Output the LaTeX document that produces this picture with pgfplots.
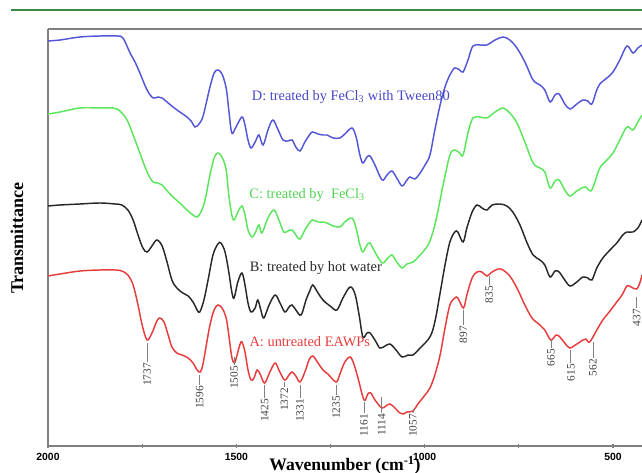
\documentclass[border=0pt]{standalone}
\usepackage{pgfplots}
\pgfplotsset{compat=1.18}
\usepackage{fontspec}
\setmainfont{Liberation Serif}
\newfontfamily\ticksans{Liberation Sans}
\definecolor{cA}{RGB}{232,60,60}
\definecolor{cB}{RGB}{40,40,40}
\definecolor{cC}{RGB}{90,230,90}
\definecolor{cD}{RGB}{85,85,215}
\definecolor{tD}{RGB}{70,70,200}
\definecolor{tC}{RGB}{80,210,80}
\definecolor{hdr}{RGB}{60,135,70}
\begin{document}
\begin{tikzpicture}[x=0.75pt,y=0.75pt]
\begin{axis}[
  at={(0,0)}, anchor=south west, name=ax,
  scale only axis, width=445.5pt, height=312.75pt,
  x dir=reverse, xmin=423, xmax=2000, ymin=0, ymax=417,
  clip=false,
  axis x line=box, axis y line=left,
  axis line style={-, draw=gray, line width=1.2pt},
  ytick=\empty,
  xtick={500,1000,1500,2000}, minor xtick={750,1250,1750},
  xtick pos=left,
  tick align=center,
  major tick length=3pt, minor tick length=2.5pt,
  every tick/.style={gray, line width=0.8pt},
  /pgf/number format/1000 sep={},
  /pgf/number format/assume math mode=true,
  xticklabel style={font=\ticksans\bfseries\fontsize{7.8}{8}\selectfont, yshift=-0.5pt},
  xlabel={Wavenumber (cm\textsuperscript{-1})},
  xlabel style={font=\bfseries\fontsize{13.2}{14}\selectfont, yshift=10pt},
  every axis plot/.append style={line width=1.1pt, smooth, tension=0.55, no markers},
]
% D: FeCl3 with Tween80
\addplot[cD] coordinates {
(2000,405)(1968,406)(1915,409)(1862,410)(1817,410)(1801,408)(1782,393)(1769,384)(1756,373)(1737,356)(1721,348)(1708,349)(1697,348)(1681,343)(1668,339)(1650,334)(1631,329)(1618,324)(1610,319)(1599,322)(1589,329)(1578,346)(1570,359)(1559,373)(1549,376)(1538,372)(1527,358)(1520,336)(1512,313)(1501,319)(1485,329)(1477,321)(1469,306)(1461,298)(1450,304)(1440,311)(1429,301)(1416,316)(1403,326)(1389,316)(1376,306)(1363,305)(1352,306)(1342,299)(1331,295)(1318,304)(1304,312)(1297,314)(1283,312)(1270,311)(1259,311)(1243,308)(1225,308)(1212,312)(1193,318)(1182,309)(1172,291)(1164,283)(1153,289)(1145,290)(1132,281)(1113,266)(1100,271)(1087,275)(1074,268)(1060,260)(1047,266)(1039,269)(1026,267)(1012,273)(999,281)(986,291)(973,316)(959,341)(946,359)(933,371)(920,378)(907,376)(898,374)(885,386)(872,400)(853,401)(835,401)(813,406)(792,409)(774,406)(755,398)(734,384)(712,366)(694,361)(681,356)(667,344)(654,351)(643,352)(628,342)(614,337)(596,342)(580,346)(567,345)(556,342)(545,354)(535,362)(516,368)(500,374)(482,386)(463,400)(447,393)(434,398)(423,401)
};
% C: FeCl3
\addplot[cC] coordinates {
(2000,332)(1968,334)(1915,338)(1862,338)(1827,338)(1809,335)(1790,326)(1774,311)(1756,293)(1737,274)(1721,264)(1708,263)(1697,261)(1681,254)(1668,249)(1650,243)(1631,236)(1615,231)(1604,229)(1594,234)(1583,246)(1570,271)(1559,288)(1549,293)(1538,289)(1527,276)(1520,251)(1512,231)(1506,226)(1496,234)(1485,240)(1477,231)(1469,216)(1458,209)(1450,213)(1440,221)(1432,213)(1416,228)(1400,236)(1387,226)(1374,214)(1363,215)(1352,216)(1342,211)(1331,207)(1318,216)(1304,224)(1297,226)(1283,224)(1270,224)(1259,223)(1243,220)(1225,219)(1212,224)(1193,228)(1182,218)(1172,201)(1164,194)(1153,201)(1145,203)(1132,194)(1113,183)(1100,187)(1087,191)(1074,184)(1060,178)(1047,182)(1031,184)(1012,191)(991,201)(978,214)(967,231)(951,261)(933,291)(920,296)(907,293)(898,291)(885,313)(872,328)(853,329)(835,328)(813,334)(792,338)(774,333)(755,323)(734,304)(712,283)(694,278)(681,274)(667,258)(654,265)(643,266)(628,256)(614,250)(596,255)(574,259)(559,255)(548,264)(535,278)(516,286)(500,293)(482,306)(463,319)(447,316)(434,324)(423,331)
};
% B: hot water
\addplot[cB] coordinates {
(2000,240)(1968,241)(1915,242)(1862,243)(1822,242)(1804,241)(1788,236)(1774,226)(1761,211)(1748,198)(1737,194)(1724,200)(1711,206)(1697,200)(1684,184)(1671,166)(1658,158)(1642,153)(1628,150)(1615,144)(1604,136)(1597,134)(1586,146)(1575,166)(1562,191)(1549,202)(1541,203)(1530,194)(1520,174)(1512,154)(1506,148)(1496,164)(1485,173)(1477,161)(1469,143)(1461,134)(1450,138)(1443,146)(1435,136)(1427,128)(1413,141)(1397,151)(1384,143)(1371,134)(1360,139)(1352,141)(1342,136)(1328,131)(1315,146)(1304,156)(1297,161)(1283,153)(1270,146)(1251,140)(1233,136)(1217,148)(1198,159)(1185,152)(1174,131)(1164,109)(1153,113)(1145,113)(1132,106)(1119,98)(1105,100)(1092,102)(1076,96)(1060,89)(1044,91)(1031,91)(1012,98)(986,109)(973,124)(959,153)(946,181)(933,204)(920,214)(912,214)(898,204)(888,218)(874,234)(861,241)(848,238)(835,236)(821,241)(800,242)(782,240)(766,234)(747,221)(728,203)(712,191)(694,186)(681,181)(667,169)(654,175)(643,174)(628,166)(614,160)(596,164)(580,169)(567,168)(556,166)(543,178)(527,188)(508,196)(490,203)(474,211)(463,214)(447,214)(434,218)(423,226)
};
% A: untreated
\addplot[cA] coordinates {
(2000,170)(1968,172)(1915,175)(1862,176)(1822,176)(1804,175)(1788,171)(1774,161)(1761,141)(1750,121)(1737,106)(1724,113)(1711,125)(1703,128)(1692,124)(1681,111)(1671,99)(1658,93)(1644,91)(1628,88)(1615,83)(1604,76)(1596,74)(1589,81)(1581,98)(1570,121)(1559,136)(1549,141)(1538,138)(1527,128)(1520,111)(1512,89)(1505,83)(1498,91)(1490,102)(1485,104)(1477,94)(1469,76)(1461,66)(1453,68)(1445,76)(1437,72)(1425,63)(1411,74)(1397,83)(1387,76)(1372,66)(1360,71)(1352,74)(1342,70)(1331,64)(1318,74)(1307,86)(1297,90)(1283,83)(1270,76)(1257,72)(1235,64)(1225,72)(1212,84)(1198,89)(1188,82)(1177,68)(1161,46)(1151,52)(1143,53)(1132,46)(1114,38)(1103,40)(1092,42)(1079,38)(1066,33)(1057,32)(1047,34)(1031,35)(1018,42)(999,51)(986,58)(973,71)(959,91)(946,118)(933,141)(920,148)(912,148)(897,138)(888,151)(874,168)(861,174)(848,174)(835,170)(821,174)(805,177)(792,176)(774,170)(755,158)(734,141)(715,128)(694,121)(681,116)(665,106)(651,111)(641,109)(628,103)(615,98)(596,102)(580,106)(572,107)(562,104)(543,116)(527,126)(508,135)(490,144)(476,151)(463,160)(452,159)(437,157)(428,164)(423,171)
};
% series labels
\node[font=\fontsize{10.8}{12}\selectfont, text=tD] at (axis cs:1196,349) {D: treated by FeCl\textsubscript{3} with Tween80};
\node[font=\fontsize{10.8}{12}\selectfont, text=tC] at (axis cs:1312,251) {C: treated by\ \ FeCl\textsubscript{3}};
\node[font=\fontsize{10.8}{12}\selectfont, text=cB] at (axis cs:1289,178) {B: treated by hot water};
\node[font=\fontsize{10.8}{12}\selectfont, text=cA] at (axis cs:1305,104) {A: untreated EAWPs};
% peak labels
\foreach \wn/\ya/\yb/\lab in {1737/103/84/1737, 1597/71/61/1596, 1506/89/81/1505, 1425/61/48/1425, 1372/64/59/1372, 1331/61/48/1331, 1235/61/51/1235, 1161/44/33/1161, 1114/49/33/1114, 1031/37/33/1057, 897/136/121/897, 829/170/161/835, 665/106/98/665, 612/96/83/615, 553/104/88/562, 437/149/138/437} {
  \edef\temp{\noexpand\draw[gray, line width=0.5pt] (axis cs:\wn,\ya) -- (axis cs:\wn,\yb);
  \noexpand\node[rotate=90, anchor=east, inner sep=0.6pt, text=black!75, font=\noexpand\fontsize{8.5}{9}\noexpand\selectfont] at (axis cs:\wn,\yb) {\lab};}
  \temp
}
\end{axis}
\node[rotate=90, font=\bfseries\fontsize{13.5}{14}\selectfont] at (-31,208) {Transmittance};
\draw[hdr, line width=2.2pt] (-37,436) -- (594,436);
\pgfresetboundingbox
\path[use as bounding box] (-48,-27) rectangle (594,446);
\end{tikzpicture}
\end{document}
